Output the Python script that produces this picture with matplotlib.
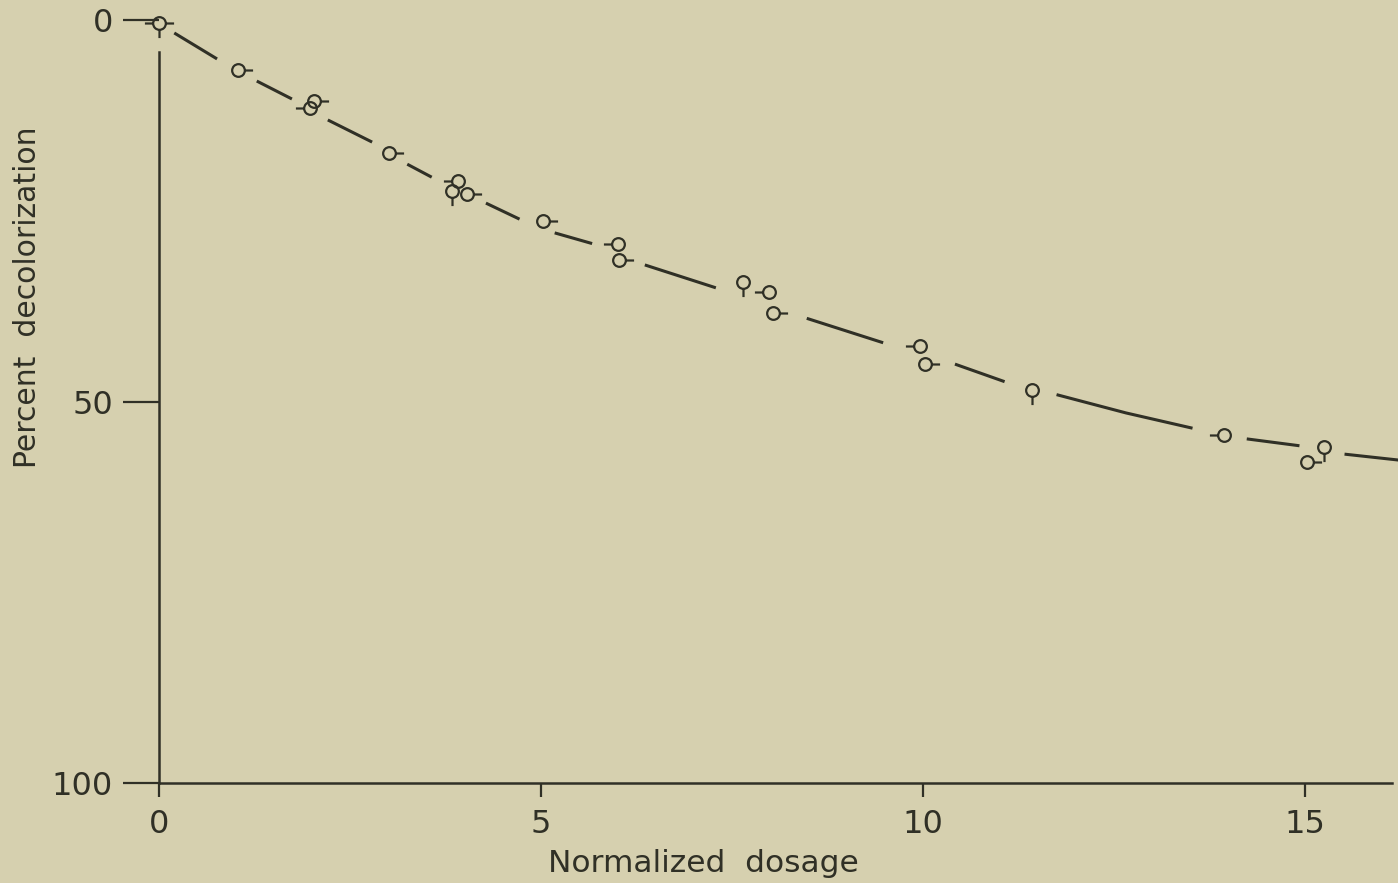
import numpy as np
import matplotlib
matplotlib.use("Agg")
import matplotlib.pyplot as plt
from matplotlib.path import Path

dose = [0.0, 1.03, 2.03, 1.98, 3.01, 3.92, 3.83, 4.03, 5.03, 6.01, 6.02,
        7.64, 7.98, 8.04, 9.96, 10.03, 11.43, 13.94, 15.03, 15.25]
decol = [0.4, 6.55, 10.6, 11.5, 17.4, 21.1, 22.4, 22.8, 26.3, 29.4, 31.4,
         34.3, 35.6, 38.4, 42.7, 45.1, 48.5, 54.4, 57.9, 56.0]
# direction of the little flag on each symbol (l, r, u, d)
flags = ['lrd', 'r', 'r', 'l', 'r', 'l', 'd', 'r', 'r', 'l', 'r',
         'd', 'l', 'r', 'l', 'r', 'd', 'l', 'r', 'd']

# hand drawn curve, broken up around the symbols (nan = gap)
curve_x = [0.2, 0.76, np.nan, 1.28, 1.74, np.nan, 2.21, 2.79, np.nan,
           3.25, 3.57, np.nan, 4.28, 4.72, np.nan, 5.18, 5.67, np.nan,
           6.36, 7.29, np.nan, 8.48, 9.48, np.nan, 10.42, 11.07, np.nan,
           11.75, 12.66, 13.53, np.nan, 14.24, 14.93, np.nan, 15.52, 16.25]
curve_y = [1.7, 5.1, np.nan, 8.0, 10.35, np.nan, 13.1, 16.0, np.nan,
           18.9, 20.6, np.nan, 24.0, 26.1, np.nan, 27.9, 29.3, np.nan,
           32.1, 35.1, np.nan, 39.1, 42.3, np.nan, 45.1, 47.4, np.nan,
           49.1, 51.5, 53.5, np.nan, 54.9, 55.8, np.nan, 56.9, 57.7]

xticks = [0, 5, 10, 15]
yticks = [0, 50, 100]

paper = '#d6d0af'
ink = '#303026'


def flag_marker(dirs):
    # open circle with short tails sticking out
    circ = Path.unit_circle()
    verts = list(circ.vertices)
    codes = list(circ.codes)
    vec = {'r': (1, 0), 'l': (-1, 0), 'u': (0, 1), 'd': (0, -1)}
    for d in dirs:
        dx, dy = vec[d]
        verts += [(dx, dy), (2.3 * dx, 2.3 * dy)]
        codes += [Path.MOVETO, Path.LINETO]
    return Path(verts, codes)


fig = plt.figure(figsize=(13.98, 8.83), dpi=100, facecolor=paper)
ax = fig.add_axes([159 / 1398, 1 - 783 / 883, 1 - 159 / 1398, 763 / 883])
ax.set_facecolor(paper)

ax.plot(curve_x, curve_y, color=ink, lw=2.2, solid_capstyle='butt', clip_on=False)

for x, y, f in zip(dose, decol, flags):
    ax.plot(x, y, ls='none', marker=flag_marker(f), ms=21, mfc='none',
            mec=ink, mew=1.6, clip_on=False)

ax.set_xlim(0, 16.22)
ax.set_ylim(100, 0)

for s in ['top', 'right']:
    ax.spines[s].set_visible(False)
ax.spines['left'].set_bounds(4.2, 100)
ax.spines['bottom'].set_bounds(0, 16.14)
for s in ['left', 'bottom']:
    ax.spines[s].set_color(ink)
    ax.spines[s].set_linewidth(1.8)

ax.set_xticks(xticks)
ax.set_yticks(yticks)
ax.set_xticklabels([str(t) for t in xticks])
ax.set_yticklabels([str(t) for t in yticks])
ax.tick_params(axis='x', direction='out', length=10, width=1.6, pad=9,
               color=ink, labelcolor=ink, labelsize=23)
ax.tick_params(axis='y', direction='out', length=26, width=1.6, pad=7,
               color=ink, labelcolor=ink, labelsize=23)

fig.text(28 / 1398, 1 - 297 / 883, 'Percent  decolorization', rotation=90,
         ha='center', va='center', fontsize=21.5, color=ink)
fig.text(703 / 1398, 1 - 863 / 883, 'Normalized  dosage',
         ha='center', va='center', fontsize=22.5, color=ink)

fig.savefig('out.png', dpi=100, facecolor=paper)
